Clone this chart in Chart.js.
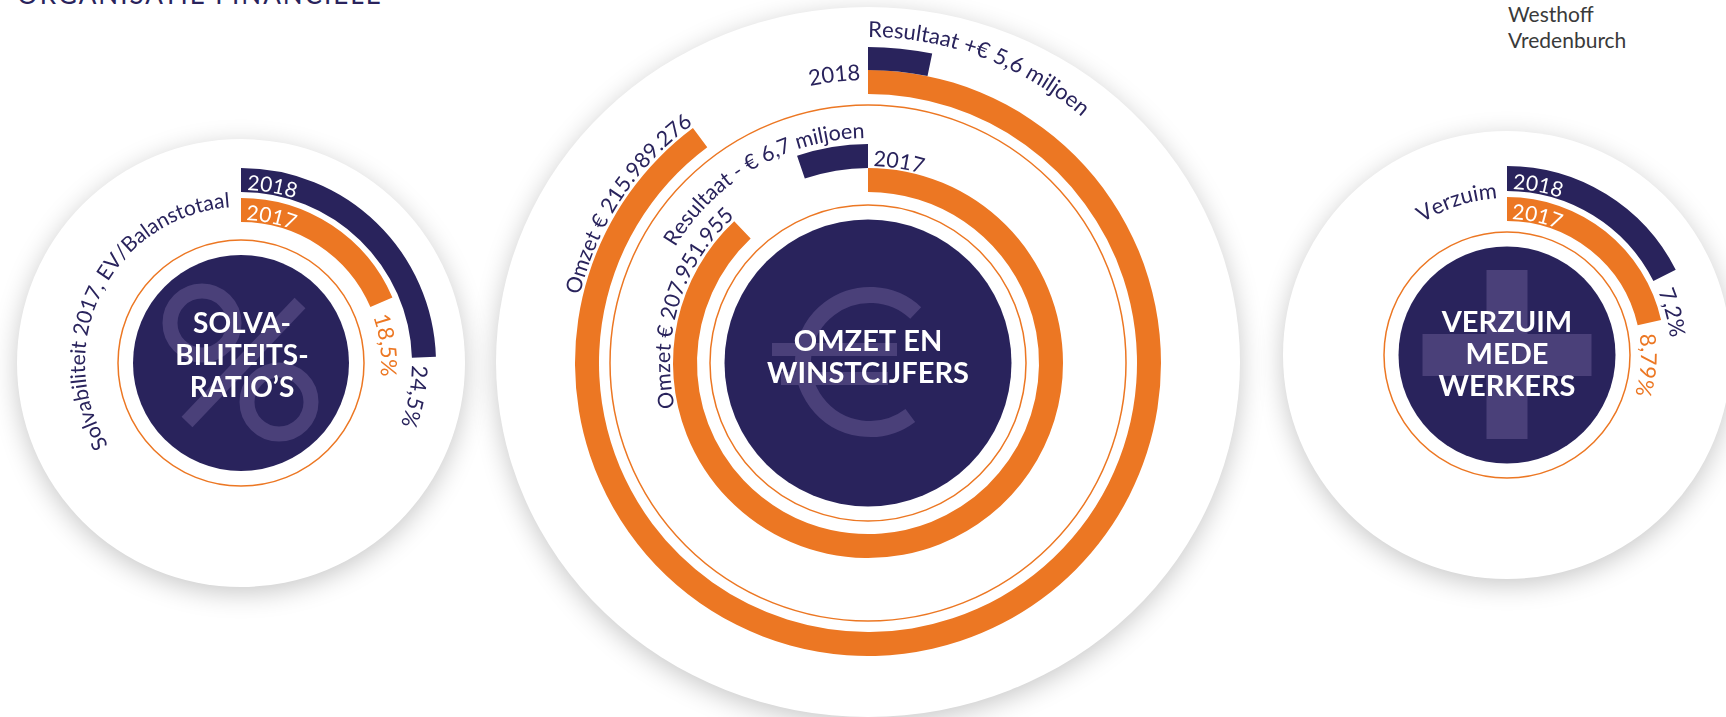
<!DOCTYPE html>
<html>
<head>
<meta charset="utf-8">
<script src="https://cdn.jsdelivr.net/npm/chart.js@4/dist/chart.umd.min.js"></script>
<style>
html, body { margin: 0; padding: 0; background: #fff; }
body { position: relative; width: 1726px; height: 717px; overflow: hidden; font-family: Lato, sans-serif; }
.disc { position: absolute; background: #fff; border-radius: 50%; box-shadow: 0 6px 26px rgba(0,0,0,0.22); }
canvas { position: absolute; }
.title { position: absolute; left: 17px; top: -19px; color: #29235c; font-size: 26px; line-height: 26px; letter-spacing: 2px; white-space: nowrap; }
.brand { position: absolute; left: 1508px; top: 1px; color: #3a3a3a; font-size: 21px; line-height: 26px; }
</style>
</head>
<body>
<div class="title">ORGANISATIE FINANCIËLE</div>
<div class="brand">Westhoff<br>Vredenburch</div>

<div class="disc" style="left:17px;top:139px;width:448px;height:448px"></div>
<div class="disc" style="left:496px;top:7px;width:744px;height:710px"></div>
<div class="disc" style="left:1283px;top:131px;width:448px;height:448px"></div>

<canvas id="solv" width="448" height="448" style="left:17px;top:139px"></canvas>
<canvas id="omzet" width="744" height="717" style="left:496px;top:0px"></canvas>
<canvas id="verzuim" width="448" height="448" style="left:1283px;top:131px"></canvas>

<script>
const NAVY = "#29235c";
const ORANGE = "#ec7723";
const SYMBOL = "#4a4079";
const CLEAR = "rgba(0,0,0,0)";

// data
const years = ["2018", "2017"];
const solvabiliteit = [24.5, 18.5];          // %
const verzuim = [7.2, 8.79];                 // %
const omzet = [215989276, 207951955];        // €
const resultaat = [5.6, -6.7];               // € miljoen
const solvLabels = ["24,5%", "18,5%"];
const verzuimLabels = ["7,2%", "8,79%"];
const omzetLabels = ["Omzet € 215.989.276", "Omzet € 207.951.955"];
const resultaatLabels = ["Resultaat +€ 5,6 miljoen", "Resultaat - € 6,7 miljoen"];

// value of one full turn of each ring (scale as drawn in the picture)
const solvTurn = 100;
const verzuimTurn = 41;
const omzetTurn = [240.5e6, 236.4e6];
const resultaatTurn = [172, 127.6];

const deg = d => d * Math.PI / 180;
const cw = a => a + Math.PI / 2; // canvas angle -> clockwise from 12 o'clock

function ring(value, turn, color, weight) {
    const v = Math.abs(value);
    return {
        data: value < 0 ? [turn - v, v] : [v, turn - v],
        backgroundColor: value < 0 ? [CLEAR, color] : [color, CLEAR],
        weight,
        borderWidth: 0,
    };
}

function gap(weight) {
    return { data: [1], backgroundColor: [CLEAR], weight, borderWidth: 0 };
}

// the coloured arc of a ring dataset
function bar(chart, i) {
    const k = chart.data.datasets[i].backgroundColor[0] === CLEAR ? 1 : 0;
    return chart.getDatasetMeta(i).data[k];
}

// text along a circle, baseline at radius r, reading clockwise
function arcText(ctx, text, cx, cy, r, theta, align) {
    const chars = [...text];
    const widths = chars.map(c => ctx.measureText(c).width);
    const total = widths.reduce((s, w) => s + w, 0);
    let a = align === "end" ? theta - total / r : theta;
    ctx.textAlign = "center";
    ctx.textBaseline = "alphabetic";
    chars.forEach((c, i) => {
        ctx.save();
        ctx.translate(cx, cy);
        ctx.rotate(a + widths[i] / (2 * r));
        ctx.fillText(c, 0, -r);
        ctx.restore();
        a += widths[i] / r;
    });
}

function disk(ctx, x, y, r, color) {
    ctx.beginPath();
    ctx.arc(x, y, r, 0, Math.PI * 2);
    ctx.fillStyle = color;
    ctx.fill();
}

function thinCircle(ctx, x, y, r) {
    ctx.beginPath();
    ctx.arc(x, y, r, 0, Math.PI * 2);
    ctx.strokeStyle = ORANGE;
    ctx.lineWidth = 1.5;
    ctx.stroke();
}

function titleLines(ctx, cx, cy, lines, offsets, size) {
    ctx.fillStyle = "#fff";
    ctx.font = "bold " + size + "px Lato";
    ctx.textAlign = "center";
    ctx.textBaseline = "alphabetic";
    lines.forEach((t, i) => ctx.fillText(t, cx, cy + offsets[i]));
}

function deco(back, front) {
    const center = chart => {
        const a = chart.chartArea;
        return [(a.left + a.right) / 2, (a.top + a.bottom) / 2];
    };
    return {
        id: "deco",
        beforeDatasetsDraw(chart) {
            const [cx, cy] = center(chart);
            chart.ctx.save();
            back(chart.ctx, cx, cy, chart);
            chart.ctx.restore();
        },
        afterDatasetsDraw(chart) {
            const [cx, cy] = center(chart);
            chart.ctx.save();
            front(chart.ctx, cx, cy, chart);
            chart.ctx.restore();
        },
    };
}

function makeChart(id, datasets, cutout, padding, plugin) {
    return new Chart(document.getElementById(id), {
        type: "doughnut",
        data: { datasets },
        options: {
            responsive: false,
            animation: false,
            devicePixelRatio: 1,
            events: [],
            cutout,
            layout: { padding },
            plugins: { legend: { display: false }, tooltip: { enabled: false } },
        },
        plugins: [plugin],
    });
}

// --------------------------------------------------------------------------
// Solvabiliteit
// --------------------------------------------------------------------------

makeChart("solv", [
    ring(solvabiliteit[0], solvTurn, NAVY, 24),
    gap(6),
    ring(solvabiliteit[1], solvTurn, ORANGE, 24),
], 141, 29, deco((ctx, cx, cy) => {
    thinCircle(ctx, cx, cy, 123);
    disk(ctx, cx, cy, 108, NAVY);
    ctx.strokeStyle = SYMBOL;
    ctx.lineWidth = 15;
    ctx.beginPath(); ctx.arc(cx - 39, cy - 40, 32, 0, Math.PI * 2); ctx.stroke();
    ctx.beginPath(); ctx.arc(cx + 38, cy + 39, 32, 0, Math.PI * 2); ctx.stroke();
    ctx.beginPath(); ctx.moveTo(cx - 54, cy + 59); ctx.lineTo(cx + 59, cy - 60); ctx.stroke();
}, (ctx, cx, cy, chart) => {
    const b18 = bar(chart, 0), b17 = bar(chart, 2);
    ctx.fillStyle = "#fff";
    ctx.font = "21px Lato";
    arcText(ctx, years[0], cx, cy, b18.innerRadius + 2, deg(2), "start");
    arcText(ctx, years[1], cx, cy, b17.innerRadius + 2, deg(2), "start");
    ctx.font = "21px Lato";
    ctx.fillStyle = NAVY;
    arcText(ctx, "Solvabiliteit 2017, EV/Balanstotaal", cx, cy, b17.outerRadius - 9, -deg(4), "end");
    ctx.font = "22px Lato";
    arcText(ctx, solvLabels[0], cx, cy, b18.innerRadius, cw(b18.endAngle) + deg(2.5), "start");
    ctx.fillStyle = ORANGE;
    arcText(ctx, solvLabels[1], cx, cy, b17.innerRadius - 1, cw(b17.endAngle) + deg(4), "start");
    titleLines(ctx, cx + 1, cy, ["SOLVA-", "BILITEITS-", "RATIO’S"], [-30, 2, 34], 28);
}));

// --------------------------------------------------------------------------
// Omzet en winstcijfers
// --------------------------------------------------------------------------

makeChart("omzet", [
    ring(resultaat[0], resultaatTurn[0], NAVY, 23),
    ring(omzet[0], omzetTurn[0], ORANGE, 24),
    gap(50),
    ring(resultaat[1], resultaatTurn[1], NAVY, 24),
    ring(omzet[1], omzetTurn[1], ORANGE, 24),
], 171, { left: 56, right: 56, top: 47, bottom: 38 }, deco((ctx, cx, cy) => {
    thinCircle(ctx, cx, cy, 258);
    thinCircle(ctx, cx, cy, 158);
    disk(ctx, cx, cy, 143.5, NAVY);
    ctx.strokeStyle = SYMBOL;
    ctx.lineWidth = 16;
    ctx.beginPath(); ctx.arc(cx + 2, cy - 1, 67, deg(53), deg(313)); ctx.stroke();
    ctx.fillStyle = SYMBOL;
    ctx.fillRect(cx - 96, cy - 20, 125, 13);
    ctx.fillRect(cx - 87, cy + 9, 107, 13);
}, (ctx, cx, cy, chart) => {
    const r18 = bar(chart, 0), o18 = bar(chart, 1), r17 = bar(chart, 3), o17 = bar(chart, 4);
    ctx.fillStyle = NAVY;
    ctx.font = "22px Lato";
    arcText(ctx, resultaatLabels[0], cx, cy, r18.outerRadius + 10, 0, "start");
    arcText(ctx, years[0], cx, cy, o18.outerRadius - 10, -deg(1.5), "end");
    ctx.font = "21.5px Lato";
    arcText(ctx, omzetLabels[0], cx, cy, o18.outerRadius + 3, cw(o18.endAngle) + deg(0.5), "end");
    arcText(ctx, years[1], cx, cy, r17.innerRadius + 2, deg(1.5), "start");
    arcText(ctx, resultaatLabels[1], cx, cy, r17.outerRadius + 6, -deg(0.8), "end");
    arcText(ctx, omzetLabels[1], cx, cy, o17.outerRadius + 3, cw(o17.endAngle) + deg(1), "end");
    titleLines(ctx, cx, cy, ["OMZET EN", "WINSTCIJFERS"], [-12, 20], 29);
}));

// --------------------------------------------------------------------------
// Verzuim medewerkers
// --------------------------------------------------------------------------

makeChart("verzuim", [
    ring(verzuim[0], verzuimTurn, NAVY, 25),
    gap(6),
    ring(verzuim[1], verzuimTurn, ORANGE, 24),
], 134, 35, deco((ctx, cx, cy) => {
    thinCircle(ctx, cx, cy, 123);
    disk(ctx, cx, cy, 108.5, NAVY);
    ctx.fillStyle = SYMBOL;
    ctx.fillRect(cx - 20.5, cy - 85, 41, 169);
    ctx.fillRect(cx - 84.5, cy - 21, 169, 42);
}, (ctx, cx, cy, chart) => {
    const b18 = bar(chart, 0), b17 = bar(chart, 2);
    ctx.fillStyle = "#fff";
    ctx.font = "21px Lato";
    arcText(ctx, years[0], cx, cy, b18.innerRadius + 2, deg(2), "start");
    arcText(ctx, years[1], cx, cy, b17.innerRadius + 2, deg(2), "start");
    ctx.font = "22px Lato";
    ctx.fillStyle = NAVY;
    arcText(ctx, verzuimLabels[0], cx, cy, b18.innerRadius, cw(b18.endAngle) + deg(4), "start");
    arcText(ctx, "Verzuim", cx, cy, b17.outerRadius - 1, -deg(3.5), "end");
    ctx.fillStyle = ORANGE;
    arcText(ctx, verzuimLabels[1], cx, cy, b17.innerRadius, cw(b17.endAngle) + deg(4), "start");
    titleLines(ctx, cx, cy, ["VERZUIM", "MEDE", "WERKERS"], [-23, 9, 41], 29);
}));
</script>
</body>
</html>
